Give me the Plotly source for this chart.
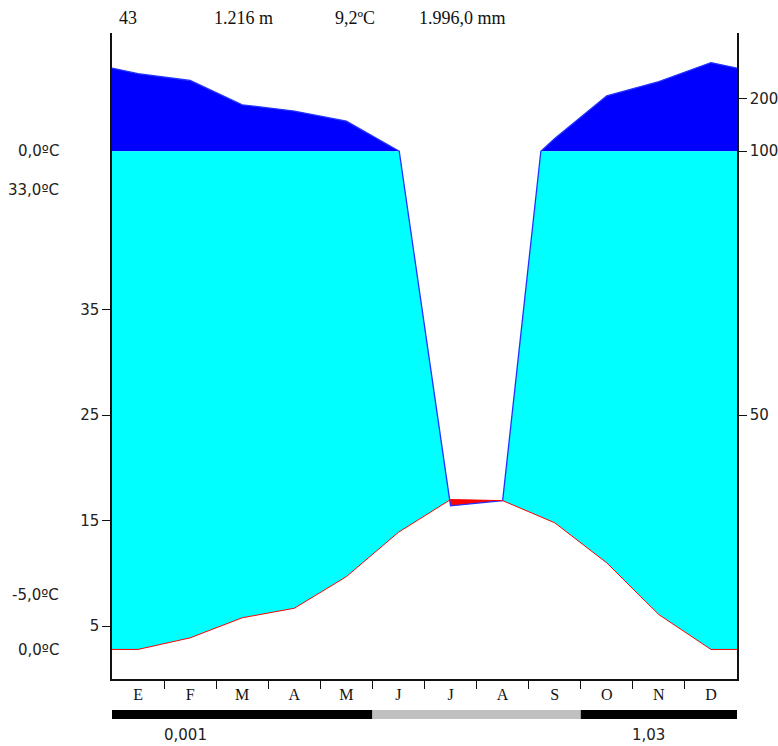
import numpy as np
import plotly.graph_objects as go

# ---------------- data ----------------
months = ["E", "F", "M", "A", "M", "J", "J", "A", "S", "O", "N", "D"]
temp = [2.8, 3.9, 5.8, 6.7, 9.7, 13.9, 17.0, 16.9, 14.8, 11.0, 6.1, 2.8]      # ºC
precip = [247, 234, 188, 176, 157, 101, 32.8, 33.8, 124, 205, 232, 268]     # mm
frost = ["black"] * 5 + ["gray"] * 4 + ["black"] * 3
temp_ticks = [5, 15, 25, 35]
precip_ticks = [50, 100, 200]
header = ["43", "1.216 m", "9,2ºC", "1.996,0 mm"]
left_labels = ["0,0ºC", "33,0ºC", "-5,0ºC", "0,0ºC"]
bar_labels = ["0,001", "1,03"]

# ---------------- scale helpers ----------------
def ptrans(p):
    p = np.asarray(p, dtype=float)
    return np.where(p <= 100, p / 2.0, 50 + (p - 100) * 0.05)

# nodes: month centres plus the two edges (mean of Dec & Jan)
n = len(months)
xn = np.array([0.0] + [i + 0.5 for i in range(n)] + [float(n)])
Tn = np.array([(temp[-1] + temp[0]) / 2] + temp + [(temp[-1] + temp[0]) / 2])
Pn = np.array([(precip[-1] + precip[0]) / 2] + precip + [(precip[-1] + precip[0]) / 2])

# refine with crossing points (P = 100, P/2 = T)
xs, Ts, Ps = [], [], []
for i in range(len(xn) - 1):
    x0, x1 = xn[i], xn[i + 1]
    T0, T1 = Tn[i], Tn[i + 1]
    P0, P1 = Pn[i], Pn[i + 1]
    fr = [0.0]
    if (P0 - 100) * (P1 - 100) < 0:
        fr.append((100 - P0) / (P1 - P0))
    d0, d1 = P0 / 2 - T0, P1 / 2 - T1
    if d0 * d1 < 0:
        fr.append(d0 / (d0 - d1))
    for t in sorted(fr):
        xs.append(x0 + t * (x1 - x0))
        Ts.append(T0 + t * (T1 - T0))
        Ps.append(P0 + t * (P1 - P0))
xs.append(xn[-1]); Ts.append(Tn[-1]); Ps.append(Pn[-1])
xs = np.array(xs); Ts = np.array(Ts); fP = ptrans(Ps)

fig = go.Figure()

def band(lower, upper, color):
    fig.add_trace(go.Scatter(x=xs, y=lower, mode="lines", line=dict(width=0),
                             hoverinfo="skip", showlegend=False))
    fig.add_trace(go.Scatter(x=xs, y=upper, mode="lines", line=dict(width=0),
                             fill="tonexty", fillcolor=color,
                             hoverinfo="skip", showlegend=False))

band(np.full_like(xs, 50.0), np.maximum(fP, 50.0), "#0000ff")
band(Ts, np.maximum(np.minimum(fP, 50.0), Ts), "#00ffff")
band(np.minimum(fP, Ts), Ts, "#ff0000")

fig.add_trace(go.Scatter(x=xs, y=fP, mode="lines", line=dict(color="#2233ff", width=1.3),
                         hoverinfo="skip", showlegend=False))
fig.add_trace(go.Scatter(x=xs, y=Ts, mode="lines", line=dict(color="#ff0000", width=1),
                         hoverinfo="skip", showlegend=False))
fig.add_trace(go.Scatter(x=[0], y=[0], yaxis="y2", mode="markers",
                         marker=dict(opacity=0), hoverinfo="skip", showlegend=False))

YMAX = 61.2
sans = "DejaVu Sans"
serif = "Liberation Serif"

fig.update_layout(
    width=778, height=746,
    margin=dict(l=112, r=41, t=33, b=67),
    paper_bgcolor="white", plot_bgcolor="white",
    showlegend=False,
    xaxis=dict(range=[0, n], showgrid=False, zeroline=False, automargin=False,
               showline=True, linecolor="#111", linewidth=1.5,
               tickmode="array", tickvals=[i + 0.5 for i in range(n)], ticktext=months,
               ticks="", tickfont=dict(family=serif, size=16, color="#111"),
               minor=dict(tickmode="array", tickvals=list(range(1, n)), ticks="outside",
                          ticklen=8, tickcolor="#111", tickwidth=1.2, showgrid=False)),
    yaxis=dict(range=[0, YMAX], showgrid=False, zeroline=False, automargin=False,
               showline=True, linecolor="#111", linewidth=1.5,
               tickmode="array", tickvals=temp_ticks, ticktext=[str(v) for v in temp_ticks],
               ticks="outside", ticklen=8, tickcolor="#111", tickwidth=1.2,
               tickfont=dict(family=sans, size=15, color="#222")),
    yaxis2=dict(range=[0, YMAX], overlaying="y", side="right", showgrid=False, zeroline=False,
                automargin=False,
                showline=True, linecolor="#111", linewidth=1.5,
                tickmode="array", tickvals=[float(ptrans(v)) for v in precip_ticks],
                ticktext=[str(v) for v in precip_ticks],
                ticks="outside", ticklen=8, tickcolor="#111", tickwidth=1.2,
                tickfont=dict(family=sans, size=15, color="#222")),
)

# frost bar: merge consecutive months of the same class into one rectangle
bar_colors = {"black": "#000000", "gray": "#c0c0c0"}
start = 0
for i in range(1, n + 1):
    if i == n or frost[i] != frost[start]:
        fig.add_shape(type="rect", xref="x", yref="paper", x0=start, x1=i,
                      y0=-0.062, y1=-0.048, fillcolor=bar_colors[frost[start]],
                      line=dict(width=0))
        start = i

ann = []
for txt, xp in zip(header, [0.026, 0.21, 0.389, 0.56]):
    ann.append(dict(text=txt, xref="paper", yref="paper", x=xp, y=1.023,
                    xanchor="center", yanchor="middle", showarrow=False,
                    font=dict(family=serif, size=18, color="#111")))
for txt, yp in zip(left_labels, [0.817, 0.757, 0.130, 0.045]):
    ann.append(dict(text=txt, xref="paper", yref="paper", x=-0.081, y=yp,
                    xanchor="right", yanchor="middle", showarrow=False,
                    font=dict(family=sans, size=15, color="#222")))
for txt, xv in zip(bar_labels, [1.41, 10.3]):
    ann.append(dict(text=txt, xref="x", yref="paper", x=xv, y=-0.087,
                    xanchor="center", yanchor="middle", showarrow=False,
                    font=dict(family=sans, size=15, color="#222")))
fig.update_layout(annotations=ann)

fig.write_html("out.html", config={"displayModeBar": False},
               post_script="document.body.style.margin='0';")
